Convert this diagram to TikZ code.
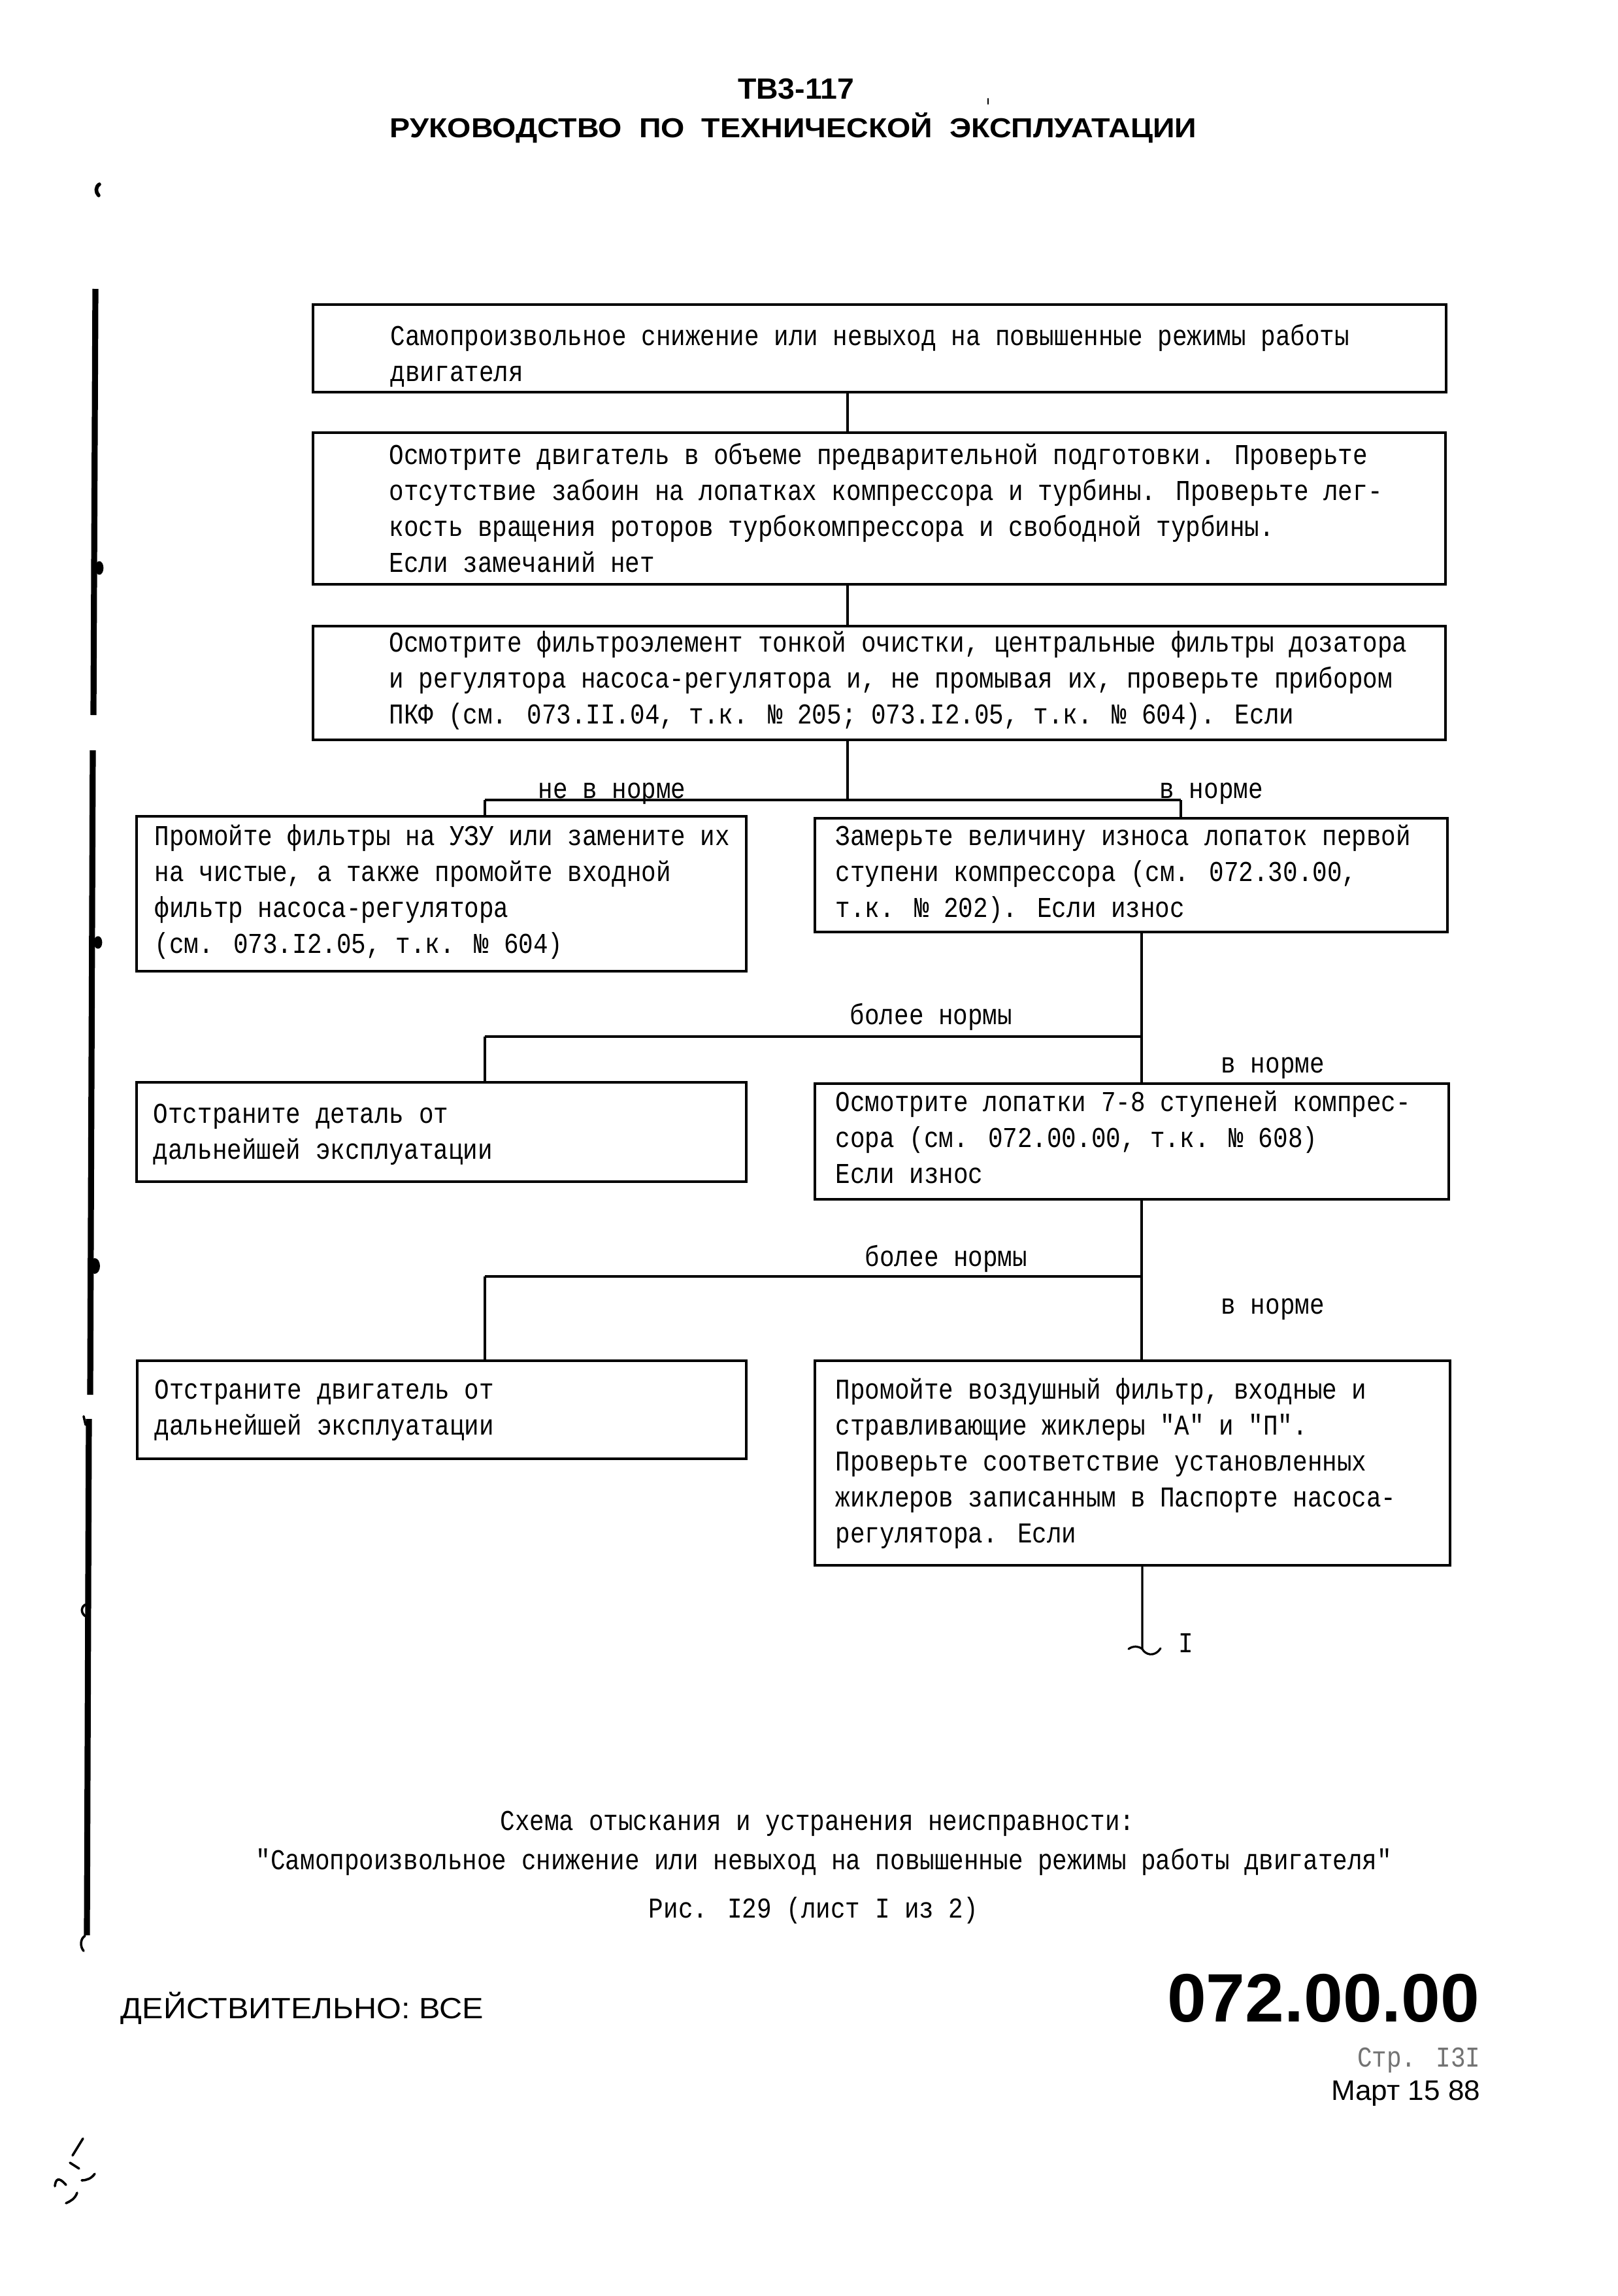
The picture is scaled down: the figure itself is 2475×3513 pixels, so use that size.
\documentclass[tikz,border=0pt]{standalone}
\usepackage{fontspec}
\usepackage{graphicx}
\newfontfamily\twfam[FakeStretch=0.855]{Liberation Mono}
\newfontfamily\sansfam{Liberation Sans}
\newcommand\tw{\twfam\fontsize{11pt}{13.75pt}\selectfont}
\newcommand\fl{\rule{0pt}{11pt}}
\begin{document}
\begin{tikzpicture}[x=0.25pt,y=-0.25pt,
  box/.style={draw,line width=1.1pt,inner sep=0pt,anchor=north west},
  txt/.style={font=\tw,align=left,inner sep=0pt,anchor=north west},
  lbl/.style={font=\tw,inner sep=0pt,anchor=base west},
  captxt/.style={font=\tw,inner sep=0pt,anchor=base},
  conn/.style={line width=0.8pt},
  branch/.style={line width=1.2pt},
  bar/.style={line width=2.3pt},
  speck/.style={line width=0.9pt,line cap=round}]
\useasboundingbox (0,0) rectangle (2475,3513);
\fill[white] (0,0) rectangle (2475,3513);

% header
\node[inner sep=0pt,anchor=base] (hd1) at (1218,151) {\resizebox{44.5pt}{\height}{\sansfam\bfseries\fontsize{11.2pt}{13pt}\selectfont ТВ3-117}};
\node[inner sep=0pt,anchor=base] (hd2) at (1214,210) {\resizebox{308.5pt}{\height}{\sansfam\bfseries\fontsize{10.5pt}{13pt}\selectfont РУКОВОДСТВО\ \ ПО\ \ ТЕХНИЧЕСКОЙ\ \ ЭКСПЛУАТАЦИИ}};

% boxes
\node[box,minimum width=433.5pt,minimum height=33.5pt] (b1) at (477,464) {};
\node[box,minimum width=433.25pt,minimum height=58pt] (b2) at (477,660) {};
\node[box,minimum width=433.25pt,minimum height=43.5pt] (b3) at (477,956) {};
\node[box,minimum width=233.25pt,minimum height=59.25pt] (b4) at (207,1247) {};
\node[box,minimum width=242pt,minimum height=43.5pt] (b5) at (1245,1250) {};
\node[box,minimum width=233.25pt,minimum height=38pt] (b6) at (207,1654) {};
\node[box,minimum width=242.5pt,minimum height=44.25pt] (b7) at (1245,1656) {};
\node[box,minimum width=233pt,minimum height=37.5pt] (b8) at (208,2080) {};
\node[box,minimum width=243pt,minimum height=78.25pt] (b9) at (1245,2080) {};

% box texts
\node[txt] (t1) at (597,484) {\fl Самопроизвольное снижение или невыход на повышенные режимы работы\\двигателя};
\node[txt] (t2) at (595,666) {\fl Осмотрите двигатель в объеме предварительной подготовки. Проверьте\\отсутствие забоин на лопатках компрессора и турбины. Проверьте лег-\\кость вращения роторов турбокомпрессора и свободной турбины.\\Если замечаний нет};
\node[txt] (t3) at (595,953) {\fl Осмотрите фильтроэлемент тонкой очистки, центральные фильтры дозатора\\и регулятора насоса-регулятора и, не промывая их, проверьте прибором\\ПКФ (см. 073.II.04, т.к. № 205; 073.I2.05, т.к. № 604). Если};
\node[txt] (t4) at (236,1249) {\fl Промойте фильтры на УЗУ или замените их\\на чистые, а также промойте входной\\фильтр насоса-регулятора\\(см. 073.I2.05, т.к. № 604)};
\node[txt] (t5) at (1278,1249) {\fl Замерьте величину износа лопаток первой\\ступени компрессора (см. 072.30.00,\\т.к. № 202). Если износ};
\node[txt] (t6) at (234,1674) {\fl Отстраните деталь от\\дальнейшей эксплуатации};
\node[txt] (t7) at (1278,1656) {\fl Осмотрите лопатки 7-8 ступеней компрес-\\сора (см. 072.00.00, т.к. № 608)\\Если износ};
\node[txt] (t8) at (236,2096) {\fl Отстраните двигатель от\\дальнейшей эксплуатации};
\node[txt] (t9) at (1278,2096) {\fl Промойте воздушный фильтр, входные и\\стравливающие жиклеры "А" и "П".\\Проверьте соответствие установленных\\жиклеров записанным в Паспорте насоса-\\регулятора. Если};

% connectors
\coordinate (trunk) at (1297,0);
\coordinate (s1) at (1297,1224);
\coordinate (s1l) at (742,1224);
\coordinate (s1r) at (1807,1224);
\coordinate (s2) at (1747,1586);
\coordinate (s2l) at (742,1586);
\coordinate (s3) at (1747,1953);
\coordinate (s3l) at (742,1953);
\coordinate (endI) at (1748,2523);

\draw[conn] (b1.south -| trunk) -- (b2.north -| trunk);
\draw[conn] (b2.south -| trunk) -- (b3.north -| trunk);
\draw[conn] (b3.south -| trunk) -- (s1);
\draw[branch] (s1l) -- (s1r);
\draw[conn] (s1l) -- (b4.north -| s1l);
\draw[conn] (s1r) -- (b5.north -| s1r);
\draw[conn] (b5.south -| s2) -- (b7.north -| s2);
\draw[branch] (s2) -- (s2l);
\draw[conn] (s2l) -- (b6.north -| s2l);
\draw[conn] (b7.south -| s3) -- (b9.north -| s3);
\draw[branch] (s3) -- (s3l);
\draw[conn] (s3l) -- (b8.north -| s3l);
\draw[conn,line cap=round] (b9.south -| endI) -- (endI) .. controls (1752,2531) and (1766,2537) .. (1776,2522);
\draw[conn,line cap=round] (endI) .. controls (1741,2518) and (1734,2518) .. (1727,2523);

% labels
\node[lbl] (l1) at (823,1221) {не в норме};
\node[lbl] (l2) at (1774,1221) {в норме};
\node[lbl] (l3) at (1300,1567) {более нормы};
\node[lbl] (l4) at (1868,1641) {в норме};
\node[lbl] (l5) at (1323,1937) {более нормы};
\node[lbl] (l6) at (1868,2010) {в норме};
\node[lbl] (lI) at (1803,2528) {I};

% caption
\node[captxt] (c1) at (1251,2800) {Схема отыскания и устранения неисправности:};
\node[captxt] (c2) at (1261,2860) {"Самопроизвольное снижение или невыход на повышенные режимы работы двигателя"};
\node[captxt] (c3) at (1245,2934) {Рис. I29 (лист I из 2)};

% footer
\node[inner sep=0pt,anchor=base west] (ft1) at (184,3088) {\resizebox{138.75pt}{\height}{\sansfam\fontsize{11.2pt}{13pt}\selectfont ДЕЙСТВИТЕЛЬНО:\ ВСЕ}};
\node[inner sep=0pt,anchor=base east] (ft2) at (2265,3093) {\resizebox{119.5pt}{\height}{\sansfam\bfseries\fontsize{26.2pt}{30pt}\selectfont 072.00.00}};
\node[inner sep=0pt,anchor=base east,font=\tw,text=black!55] (ft3) at (2266,3162) {Стр. I3I};
\node[inner sep=0pt,anchor=base east] (ft4) at (2266,3213) {\resizebox{57pt}{\height}{\sansfam\fontsize{10.8pt}{13pt}\selectfont Март 15 88}};

% margin bars and specks of the scan
\draw[bar] (146,442) -- (143,1094);
\draw[bar] (142,1148) -- (138,2134);
\draw[bar] (136,2171) -- (133,2961);
\fill (152,869) ellipse [x radius=1.6pt, y radius=2.6pt];
\fill (150,1442) ellipse [x radius=1.6pt, y radius=2.4pt];
\fill (145,1937) ellipse [x radius=2pt, y radius=3pt];
\draw[speck,line width=1.4pt] (152,282) .. controls (146,286) and (146,294) .. (151,299);
\draw[speck,line width=0.6pt] (1512,151) -- (1512,159);
\draw[speck] (128,2167) -- (131,2180);
\draw[speck] (131,2455) .. controls (124,2458) and (123,2468) .. (131,2473);
\draw[speck] (130,2962) .. controls (123,2966) and (122,2978) .. (128,2985);
\draw[speck] (127,3272) -- (111,3298);
\draw[speck] (107,3309) -- (121,3318);
\draw[speck] (84,3345) .. controls (85,3335) and (89,3329) .. (101,3343);
\draw[speck] (125,3336) .. controls (133,3336) and (140,3333) .. (145,3326);
\draw[speck] (101,3371) .. controls (108,3368) and (115,3364) .. (118,3355);
\end{tikzpicture}
\end{document}
